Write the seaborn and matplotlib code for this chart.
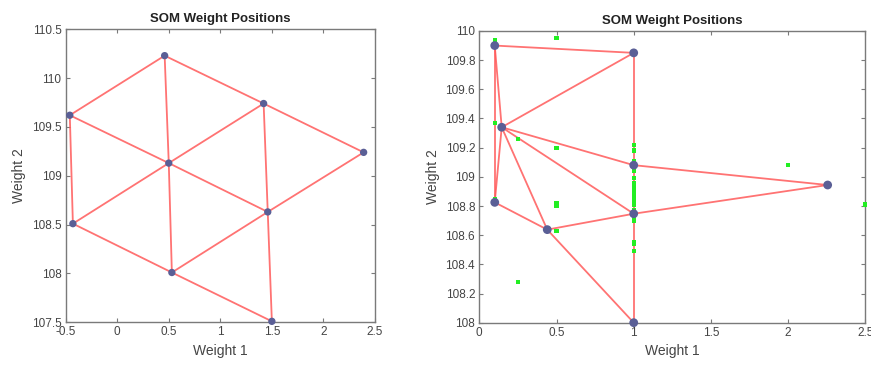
import numpy as np
import pandas as pd
import matplotlib
matplotlib.use("Agg")
import matplotlib.pyplot as plt
import seaborn as sns

sns.set_theme(style="white")
plt.rcParams['font.family'] = ['Liberation Sans', 'DejaVu Sans']

# ---- Left panel: SOM neuron weights (3x3 hex grid) ----
left_w1 = [0.46, -0.46, 1.42, 2.39, 0.50, -0.43, 1.46, 0.53, 1.50]
left_w2 = [110.23, 109.62, 109.74, 109.24, 109.13, 108.51, 108.63, 108.01, 107.51]
left_edges = [(0, 1), (0, 4), (0, 2), (2, 4), (2, 6), (2, 3), (3, 6), (1, 4),
              (1, 5), (4, 5), (4, 6), (4, 7), (5, 7), (6, 7), (6, 8), (7, 8)]

# ---- Right panel: SOM neuron weights + input data ----
right_w1 = [0.10, 1.00, 0.145, 1.00, 2.256, 0.10, 1.00, 0.44, 1.00]
right_w2 = [109.90, 109.85, 109.34, 109.08, 108.944, 108.825, 108.747, 108.638, 108.00]
right_edges = [(0, 1), (0, 2), (0, 5), (1, 2), (1, 3), (3, 6), (6, 8), (2, 3),
               (2, 6), (2, 7), (2, 5), (3, 4), (4, 6), (5, 7), (6, 7), (7, 8)]

data_x = [0.10, 0.10, 0.50, 0.10, 0.25, 0.50, 0.50, 0.50, 0.50, 0.25, 2.00, 2.50, 0.10,
          1.00, 1.00, 1.00, 1.00, 1.00, 1.00, 1.00, 1.00, 1.00, 1.00, 1.00, 1.00,
          1.00, 1.00, 1.00, 1.00, 1.00, 1.00]
data_y = [109.94, 109.89, 109.95, 109.37, 109.26, 109.20, 108.82, 108.80, 108.63, 108.28,
          109.08, 108.81, 108.85,
          109.22, 109.18, 109.11, 109.07, 109.04, 108.99, 108.96, 108.93, 108.90, 108.87,
          108.84, 108.81, 108.77, 108.72, 108.70, 108.55, 108.54, 108.49]

node_color = '#5a5f96'
edge_color = '#ff5a5a'
data_color = '#22ee22'
spine_color = '#7a7a7a'
text_color = '#444444'


def edge_frame(w1, w2, edges):
    rows = []
    for k, (a, b) in enumerate(edges):
        rows.append({'edge': k, 'x': w1[a], 'y': w2[a], 'o': 0})
        rows.append({'edge': k, 'x': w1[b], 'y': w2[b], 'o': 1})
    return pd.DataFrame(rows)


def style_axes(ax, xlim, ylim, xticks, yticks, ylabels):
    ax.set_xlim(*xlim)
    ax.set_ylim(*ylim)
    ax.set_xticks(xticks)
    ax.set_xticklabels([('%g' % t) for t in xticks])
    ax.set_yticks(yticks)
    ax.set_yticklabels(ylabels)
    for s in ax.spines.values():
        s.set_visible(True)
        s.set_color(spine_color)
        s.set_linewidth(1.0)
    ax.tick_params(direction='in', length=3, width=0.8, color=spine_color,
                   top=True, right=True, bottom=True, left=True,
                   labelsize=8.5, labelcolor=text_color, pad=3)
    ax.set_xlabel('Weight 1', fontsize=10, color=text_color, labelpad=4)
    ax.set_ylabel('Weight 2', fontsize=10, color=text_color, labelpad=4)
    ax.set_title('SOM Weight Positions', fontsize=9.5, fontweight='bold',
                 color='#222222', pad=5)
    ax.grid(False)


fig = plt.figure(figsize=(8.71, 3.76), dpi=100)
ax1 = fig.add_axes([0.0754, 0.1428, 0.3551, 0.7793])
ax2 = fig.add_axes([0.5503, 0.1418, 0.4432, 0.7758])

# Left
df_e1 = edge_frame(left_w1, left_w2, left_edges)
sns.lineplot(data=df_e1, x='x', y='y', units='edge', estimator=None, sort=False,
             color=edge_color, alpha=0.85, linewidth=1.3, ax=ax1, legend=False)
sns.scatterplot(x=left_w1, y=left_w2, color=node_color, s=28, edgecolor='none',
                ax=ax1, zorder=3, clip_on=False)
style_axes(ax1, (-0.5, 2.5), (107.5, 110.5), [-0.5, 0, 0.5, 1, 1.5, 2, 2.5],
           [107.5, 108, 108.5, 109, 109.5, 110, 110.5],
           ['107.5', '108', '108.5', '109', '109.5', '110', '110.5'])

# Right
df_e2 = edge_frame(right_w1, right_w2, right_edges)
sns.lineplot(data=df_e2, x='x', y='y', units='edge', estimator=None, sort=False,
             color=edge_color, alpha=0.85, linewidth=1.3, ax=ax2, legend=False)
sns.scatterplot(x=data_x, y=data_y, color=data_color, s=9, marker='s',
                edgecolor='none', ax=ax2, zorder=3, clip_on=False)
sns.scatterplot(x=right_w1, y=right_w2, color=node_color, s=40, edgecolor='none',
                ax=ax2, zorder=4, clip_on=False)
yt = [108 + 0.2 * i for i in range(11)]
style_axes(ax2, (0, 2.5), (108, 110), [0, 0.5, 1, 1.5, 2, 2.5],
           [round(v, 1) for v in yt],
           ['108', '108.2', '108.4', '108.6', '108.8', '109', '109.2', '109.4',
            '109.6', '109.8', '110'])

fig.savefig('out.png', dpi=100)
